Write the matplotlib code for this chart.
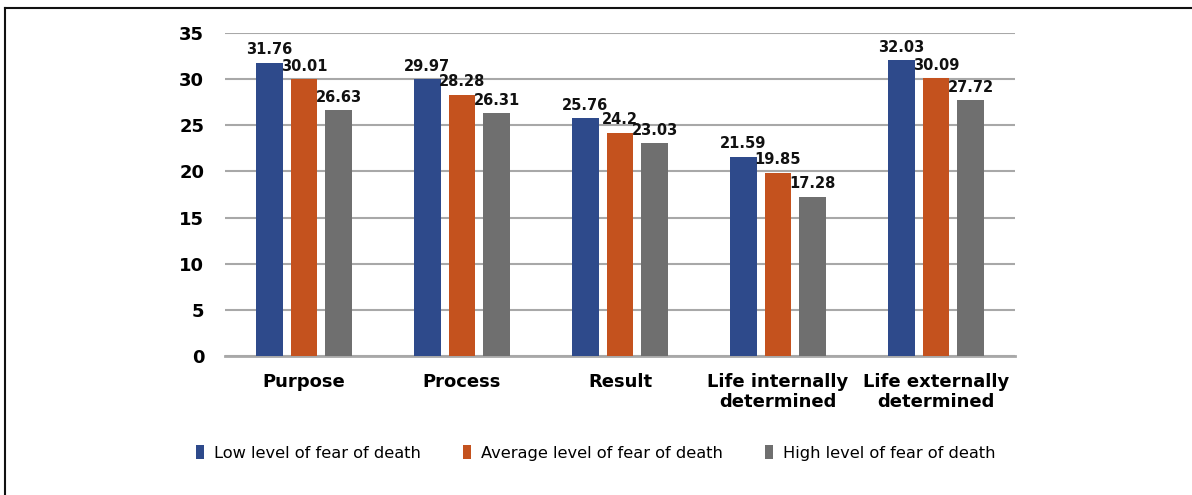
import numpy as np
import matplotlib
matplotlib.use("Agg")
import matplotlib.pyplot as plt
from matplotlib.lines import Line2D
from matplotlib.patches import Patch

# Data
categories = ["Purpose", "Process", "Result", "Life internally\ndetermined", "Life externally\ndetermined"]
series_names = ["Low level of fear of death", "Average level of fear of death", "High level of fear of death"]
low_vals = [31.76, 29.97, 25.76, 21.59, 32.03]
avg_vals = [30.01, 28.28, 24.2, 19.85, 30.09]
high_vals = [26.63, 26.31, 23.03, 17.28, 27.72]
yticks = [0, 5, 10, 15, 20, 25, 30, 35]

colors = ["#2e4a8b", "#c4521e", "#6f6f6f"]

fig = plt.figure(figsize=(11.92, 4.95), dpi=100)
ax = fig.add_axes([0.1888, 0.2808, 0.6627, 0.6525])

x = np.arange(len(categories))
width = 0.17
step = 0.22
for k, (vals, col) in enumerate(zip([low_vals, avg_vals, high_vals], colors)):
    pos = x + (k - 1) * step
    ax.bar(pos, vals, width=width, color=col, zorder=3)
    for px, v in zip(pos, vals):
        ax.text(px, v + 0.6, f"{v:g}", ha="center", va="bottom",
                fontsize=10.5, fontweight="bold", color="#111111", zorder=4)

ax.set_xlim(-0.5, len(categories) - 0.5)
ax.set_ylim(0, 35)
ax.set_yticks(yticks)
ax.set_yticklabels([str(t) for t in yticks], fontsize=13, fontweight="bold")
ax.tick_params(axis="y", length=0, pad=15)
ax.yaxis.grid(True, color="#a8a8a8", linewidth=1.5, zorder=0)
ax.set_xticks(x)
ax.set_xticklabels(categories, fontsize=13, fontweight="bold", linespacing=1.2)
ax.tick_params(axis="x", length=0, pad=12)
for s in ["top", "right", "left"]:
    ax.spines[s].set_visible(False)
ax.spines["bottom"].set_color("#a8a8a8")
ax.spines["bottom"].set_linewidth(2)

handles = [Patch(facecolor=c) for c in colors]
fig.legend(handles, series_names, loc="center left", bbox_to_anchor=(0.152, 0.085),
           ncol=3, frameon=False, fontsize=11.7, handlelength=0.5, handleheight=0.9,
           handletextpad=0.6, columnspacing=2.6)

# outer frame (top and left edges)
fig.add_artist(Line2D([0.004, 1.0], [0.983, 0.983], transform=fig.transFigure, color="#111111", linewidth=1.5))
fig.add_artist(Line2D([0.004, 0.004], [0.0, 0.983], transform=fig.transFigure, color="#111111", linewidth=1.5))

fig.savefig("out.png", dpi=100)
